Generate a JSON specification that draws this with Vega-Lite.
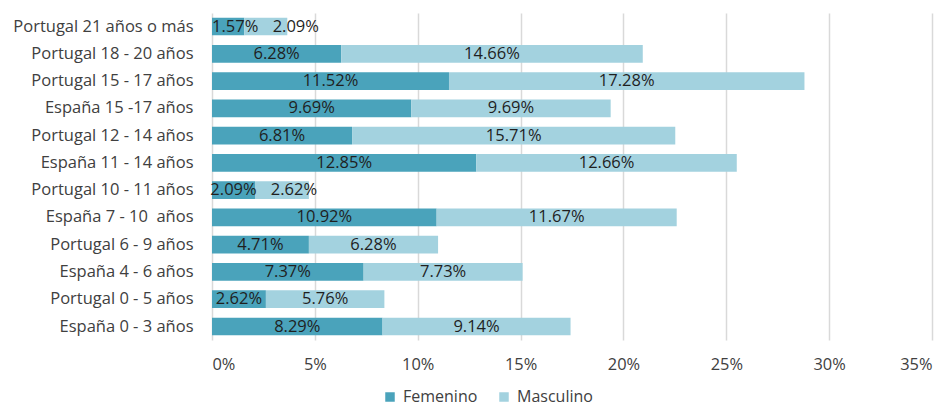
{
  "$schema": "https://vega.github.io/schema/vega-lite/v6.json",
  "autosize": "none",
  "width": 720,
  "height": 327,
  "padding": {"left": 212, "top": 13, "right": 19, "bottom": 68},
  "background": "white",
  "config": {
    "font": "Open Sans",
    "view": {"stroke": null}
  },
  "data": {
    "values": [
      {"grupo": "Portugal 21 años o más", "sexo": "Femenino", "valor": 0.0157},
      {"grupo": "Portugal 21 años o más", "sexo": "Masculino", "valor": 0.0209},
      {"grupo": "Portugal 18 - 20 años", "sexo": "Femenino", "valor": 0.0628},
      {"grupo": "Portugal 18 - 20 años", "sexo": "Masculino", "valor": 0.1466},
      {"grupo": "Portugal 15 - 17 años", "sexo": "Femenino", "valor": 0.1152},
      {"grupo": "Portugal 15 - 17 años", "sexo": "Masculino", "valor": 0.1728},
      {"grupo": "España 15 -17 años", "sexo": "Femenino", "valor": 0.0969},
      {"grupo": "España 15 -17 años", "sexo": "Masculino", "valor": 0.0969},
      {"grupo": "Portugal 12 - 14 años", "sexo": "Femenino", "valor": 0.0681},
      {"grupo": "Portugal 12 - 14 años", "sexo": "Masculino", "valor": 0.1571},
      {"grupo": "España 11 - 14 años", "sexo": "Femenino", "valor": 0.1285},
      {"grupo": "España 11 - 14 años", "sexo": "Masculino", "valor": 0.1266},
      {"grupo": "Portugal 10 - 11 años", "sexo": "Femenino", "valor": 0.0209},
      {"grupo": "Portugal 10 - 11 años", "sexo": "Masculino", "valor": 0.0262},
      {"grupo": "España 7 - 10\u00a0 años", "sexo": "Femenino", "valor": 0.1092},
      {"grupo": "España 7 - 10\u00a0 años", "sexo": "Masculino", "valor": 0.1167},
      {"grupo": "Portugal 6 - 9 años", "sexo": "Femenino", "valor": 0.0471},
      {"grupo": "Portugal 6 - 9 años", "sexo": "Masculino", "valor": 0.0628},
      {"grupo": "España 4 - 6 años", "sexo": "Femenino", "valor": 0.0737},
      {"grupo": "España 4 - 6 años", "sexo": "Masculino", "valor": 0.0773},
      {"grupo": "Portugal 0 - 5 años", "sexo": "Femenino", "valor": 0.0262},
      {"grupo": "Portugal 0 - 5 años", "sexo": "Masculino", "valor": 0.0576},
      {"grupo": "España 0 - 3 años", "sexo": "Femenino", "valor": 0.0829},
      {"grupo": "España 0 - 3 años", "sexo": "Masculino", "valor": 0.0914}
    ]
  },
  "transform": [
    {"stack": "valor", "groupby": ["grupo"], "sort": [{"field": "sexo", "order": "ascending"}], "as": ["v0", "v1"]},
    {"calculate": "(datum.v0 + datum.v1) / 2", "as": "vmid"}
  ],
  "encoding": {
    "y": {
      "field": "grupo",
      "type": "nominal",
      "sort": null,
      "scale": {"paddingInner": 0.35, "paddingOuter": 0.17},
      "axis": {
        "title": null,
        "domain": false,
        "ticks": false,
        "labelFontSize": 16.5,
        "labelColor": "#404040",
        "labelPadding": 19,
        "labelLimit": 300
      }
    }
  },
  "layer": [
    {
      "mark": {"type": "bar"},
      "encoding": {
        "x": {
          "field": "v0",
          "type": "quantitative",
          "scale": {"domain": [0, 0.35], "nice": false},
          "axis": {
            "title": null,
            "format": ".0%",
            "values": [0, 0.05, 0.1, 0.15, 0.2, 0.25, 0.3, 0.35],
            "domain": false,
            "ticks": false,
            "grid": true,
            "gridColor": "#d9d9d9",
            "gridWidth": 1.5,
            "labelFontSize": 16.4,
            "labelColor": "#404040",
            "labelPadding": 16
          }
        },
        "x2": {"field": "v1"},
        "color": {
          "field": "sexo",
          "type": "nominal",
          "scale": {"domain": ["Femenino", "Masculino"], "range": ["#4aa3bb", "#a3d2df"]},
          "legend": {
            "title": null,
            "orient": "none",
            "direction": "horizontal",
            "legendX": 170,
            "legendY": 376,
            "symbolType": "square",
            "symbolSize": 90,
            "symbolStrokeWidth": 0,
            "labelFontSize": 16,
            "labelColor": "#404040",
            "labelOffset": 5,
            "columnPadding": 18
          }
        }
      }
    },
    {
      "transform": [
        {"filter": "!(datum.grupo === 'Portugal 21 años o más' || (datum.grupo === 'Portugal 10 - 11 años' && datum.sexo === 'Masculino'))"}
      ],
      "mark": {"type": "text", "fontSize": 16.5, "color": "#1f1f1f"},
      "encoding": {
        "x": {"field": "vmid", "type": "quantitative"},
        "text": {"field": "valor", "type": "quantitative", "format": ".2%"}
      }
    },
    {
      "transform": [
        {"filter": "datum.grupo === 'Portugal 21 años o más' && datum.sexo === 'Femenino'"}
      ],
      "mark": {"type": "text", "fontSize": 16.5, "color": "#1f1f1f", "dx": 7},
      "encoding": {
        "x": {"field": "vmid", "type": "quantitative"},
        "text": {"field": "valor", "type": "quantitative", "format": ".2%"}
      }
    },
    {
      "transform": [
        {"filter": "datum.grupo === 'Portugal 21 años o más' && datum.sexo === 'Masculino'"}
      ],
      "mark": {"type": "text", "fontSize": 16.5, "color": "#1f1f1f", "dx": 30},
      "encoding": {
        "x": {"field": "vmid", "type": "quantitative"},
        "text": {"field": "valor", "type": "quantitative", "format": ".2%"}
      }
    },
    {
      "transform": [
        {"filter": "datum.grupo === 'Portugal 10 - 11 años' && datum.sexo === 'Masculino'"}
      ],
      "mark": {"type": "text", "fontSize": 16.5, "color": "#1f1f1f", "dx": 12},
      "encoding": {
        "x": {"field": "vmid", "type": "quantitative"},
        "text": {"field": "valor", "type": "quantitative", "format": ".2%"}
      }
    }
  ]
}
